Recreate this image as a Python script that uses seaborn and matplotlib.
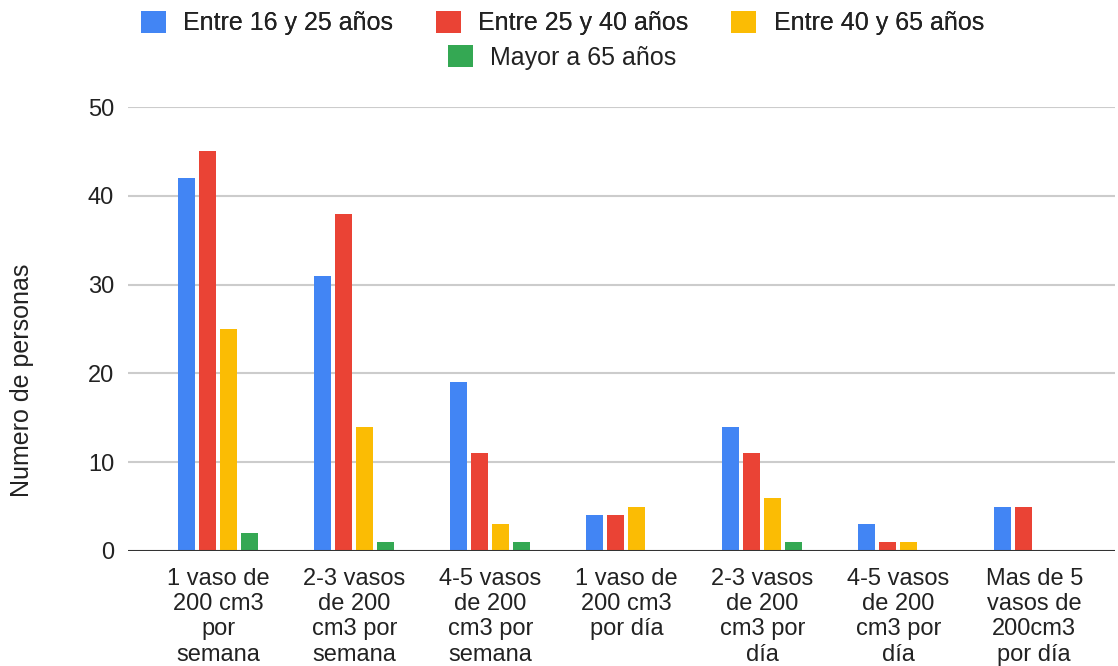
import pandas as pd
import numpy as np
import matplotlib
matplotlib.use("Agg")
import matplotlib.pyplot as plt
import seaborn as sns
from matplotlib.patches import Patch

# ==============================
# Data
# ==============================
categorias = [
    "1 vaso de\n200 cm3\npor\nsemana",
    "2-3 vasos\nde 200\ncm3 por\nsemana",
    "4-5 vasos\nde 200\ncm3 por\nsemana",
    "1 vaso de\n200 cm3\npor día",
    "2-3 vasos\nde 200\ncm3 por\ndía",
    "4-5 vasos\nde 200\ncm3 por\ndía",
    "Mas de 5\nvasos de\n200cm3\npor día",
]
grupos = ["Entre 16 y 25 años", "Entre 25 y 40 años", "Entre 40 y 65 años", "Mayor a 65 años"]
edad_16_25 = [42, 31, 19, 4, 14, 3, 5]
edad_25_40 = [45, 38, 11, 4, 11, 1, 5]
edad_40_65 = [25, 14, 3, 5, 6, 1, 0]
mayor_65 = [2, 1, 1, 0, 1, 0, 0]
colores = ["#4285F4", "#EA4335", "#FBBC04", "#34A853"]

df = pd.DataFrame({
    "categoria": categorias * 4,
    "grupo": np.repeat(grupos, len(categorias)),
    "personas": edad_16_25 + edad_25_40 + edad_40_65 + mayor_65,
})

# ==============================
# Plot
# ==============================
sns.set_style("white")
plt.rcParams["font.family"] = ["Liberation Sans", "DejaVu Sans"]
text_col = "#222222"

fig = plt.figure(figsize=(11.18, 6.66), dpi=100)
ax = fig.add_axes([0.1145, 0.1727, 0.883, 0.6666])

sns.barplot(data=df, x="categoria", y="personas", hue="grupo",
            hue_order=grupos, palette=colores, saturation=1,
            width=0.618, gap=0.19, linewidth=0, ax=ax, legend=False, zorder=3)

ax.set_ylim(0, 50)
ax.set_xlim(-0.665, 6.595)
ax.set_yticks([0, 10, 20, 30, 40, 50])
ax.yaxis.grid(True, color="#cccccc", linewidth=1.5, zorder=0)
ax.set_axisbelow(True)
ax.axhline(0, color="#333333", linewidth=2.2, zorder=4)
for s in ax.spines.values():
    s.set_visible(False)
ax.tick_params(axis="both", length=0, labelsize=17, labelcolor=text_col)
ax.tick_params(axis="x", pad=12)
ax.tick_params(axis="y", pad=10)
ax.set_xlabel("")
ax.set_ylabel("Numero de personas", fontsize=18, color=text_col)
# the label sits a bit lower than the axis centre in the original
ax.yaxis.set_label_coords(-0.0955, 0.385)

# Legend: 3 entries on the first row, 1 centred on the second
handles = [Patch(facecolor=c, edgecolor="none") for c in colores]
leg1 = fig.legend(handles[:3], grupos[:3], loc="center", bbox_to_anchor=(0.503, 0.9655),
                  ncol=3, frameon=False, fontsize=18, handlelength=1.0, handleheight=1.0,
                  handletextpad=0.7, columnspacing=1.7, labelcolor=text_col)
leg2 = fig.legend(handles[3:], grupos[3:], loc="center", bbox_to_anchor=(0.503, 0.914),
                  ncol=1, frameon=False, fontsize=18, handlelength=1.0, handleheight=1.0,
                  handletextpad=0.7, labelcolor=text_col)
fig.add_artist(leg1)

fig.savefig("out.png", dpi=100)
